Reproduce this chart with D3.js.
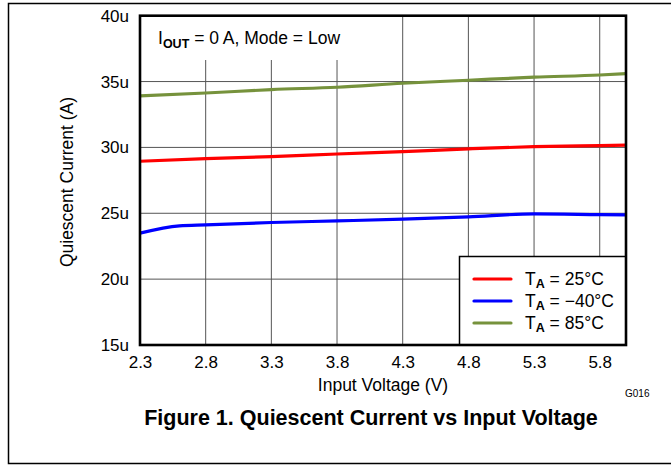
<!DOCTYPE html>
<html><head><meta charset="utf-8">
<script src="https://cdn.jsdelivr.net/npm/d3@7"></script>
<style>body{margin:0;background:#fff}svg{display:block;font-family:"Liberation Sans",Arial,sans-serif}</style>
</head><body>
<svg id="c" width="671" height="466"></svg>
<script>
const xTicks = [2.3, 2.8, 3.3, 3.8, 4.3, 4.8, 5.3, 5.8];
const yTicks = [15, 20, 25, 30, 35, 40];
const yTickLabels = ["15u", "20u", "25u", "30u", "35u", "40u"];
const vinRed = [2.3, 2.8, 3.3, 3.8, 4.3, 4.8, 5.3, 5.8, 6.0];
const iqRed = [28.95, 29.15, 29.3, 29.5, 29.68, 29.89, 30.06, 30.14, 30.17];
const vinBlue = [2.3, 2.6, 2.8, 3.3, 3.8, 4.3, 4.8, 5.3, 5.8, 6.0];
const iqBlue = [23.49, 24.04, 24.12, 24.3, 24.42, 24.55, 24.73, 24.95, 24.9, 24.88];
const vinGreen = [2.3, 2.8, 3.3, 3.8, 4.3, 4.8, 5.3, 5.8, 6.0];
const iqGreen = [33.91, 34.13, 34.39, 34.57, 34.87, 35.1, 35.33, 35.5, 35.6];
const seriesNames = ["25°C", "\u221240°C", "85°C"];
const seriesColors = ["#ff0000", "#0000ff", "#76923c"];

const svg = d3.select("#c");
const L = 140, T = 15.7, R = 626, B = 345;
const x = d3.scaleLinear().domain([2.3, 6.0]).range([L, R]);
const y = d3.scaleLinear().domain([15, 40]).range([B, T]);
const FONT = "Liberation Sans, Arial, sans-serif";

// outer frame
svg.append("path").attr("d", `M671,3.5 H8.5 V463.5 H671`).attr("fill","none").attr("stroke","#000").attr("stroke-width",1.5);

// grid
const g = svg.append("g");
g.selectAll(".vg").data(xTicks.slice(1)).enter().append("line")
  .attr("x1", d => x(d)).attr("x2", d => x(d)).attr("y1", T).attr("y2", B)
  .attr("stroke", "#555").attr("stroke-width", 1);
g.selectAll(".hg").data(yTicks.slice(1, -1)).enter().append("line")
  .attr("x1", L).attr("x2", R).attr("y1", d => y(d)).attr("y2", d => y(d))
  .attr("stroke", "#555").attr("stroke-width", 1);

// annotation background
svg.append("rect").attr("x", L).attr("y", T).attr("width", 225).attr("height", 60 - T).attr("fill", "#fff");
const ann = svg.append("text").attr("x", 158).attr("y", 44).attr("font-size", 17.5).attr("fill", "#000");
ann.append("tspan").text("I");
ann.append("tspan").attr("font-size", 12.5).attr("font-weight", "bold").attr("dy", 3.5).text("OUT");
ann.append("tspan").attr("dy", -3.5).text(" = 0 A, Mode = Low");

// lines
const line = d3.line().x(d => x(d[0])).y(d => y(d[1])).curve(d3.curveMonotoneX);
const series = [
  {xs: vinGreen, ys: iqGreen, c: seriesColors[2]},
  {xs: vinRed, ys: iqRed, c: seriesColors[0]},
  {xs: vinBlue, ys: iqBlue, c: seriesColors[1]}
];
series.forEach(s => {
  svg.append("path").datum(s.xs.map((v, i) => [v, s.ys[i]]))
    .attr("d", line).attr("fill", "none").attr("stroke", s.c).attr("stroke-width", 3.2);
});

// legend
const lg = svg.append("g");
lg.append("rect").attr("x", 459.5).attr("y", 256.5).attr("width", R - 459.5).attr("height", B - 256.5)
  .attr("fill", "#fff").attr("stroke", "#000").attr("stroke-width", 1.5);
seriesNames.forEach((n, i) => {
  const yy = 279 + i * 22;
  lg.append("line").attr("x1", 474).attr("x2", 511).attr("y1", yy).attr("y2", yy)
    .attr("stroke", seriesColors[i]).attr("stroke-width", 3.2).attr("stroke-linecap", "round");
  const t = lg.append("text").attr("x", 525).attr("y", yy + 5.5).attr("font-size", 17.5);
  t.append("tspan").text("T");
  t.append("tspan").attr("font-size", 12.5).attr("font-weight", "bold").attr("dy", 3.5).text("A");
  t.append("tspan").attr("dy", -3.5).text(" = " + n);
});

// frame
svg.append("rect").attr("x", L).attr("y", T).attr("width", R - L).attr("height", B - T)
  .attr("fill", "none").attr("stroke", "#000").attr("stroke-width", 2.6);

// axes labels
const xa = svg.append("g").attr("transform", `translate(0,${B})`)
  .call(d3.axisBottom(x).tickValues(xTicks).tickSize(0).tickPadding(11).tickFormat(d3.format(".1f")));
xa.select(".domain").remove();
xa.selectAll("text").attr("font-size", 17).attr("font-family", FONT).attr("fill", "#000");
const ya = svg.append("g").attr("transform", `translate(${L},0)`)
  .call(d3.axisLeft(y).tickValues(yTicks).tickSize(0).tickPadding(11).tickFormat((d, i) => yTickLabels[i]));
ya.select(".domain").remove();
ya.selectAll("text").attr("font-size", 17).attr("font-family", FONT).attr("fill", "#000");

svg.append("text").attr("x", (L + R) / 2).attr("y", 390.5).attr("text-anchor", "middle").attr("font-size", 17.5).text("Input Voltage (V)");
svg.append("text").attr("transform", `translate(73,182) rotate(-90)`).attr("text-anchor", "middle").attr("font-size", 17.5).text("Quiescent Current (A)");
svg.append("text").attr("x", 625).attr("y", 397).attr("font-size", 10).text("G016");
svg.append("text").attr("x", 371).attr("y", 425).attr("text-anchor", "middle").attr("font-size", 21.5).attr("font-weight", "bold").text("Figure 1. Quiescent Current vs Input Voltage");
</script>
</body></html>
